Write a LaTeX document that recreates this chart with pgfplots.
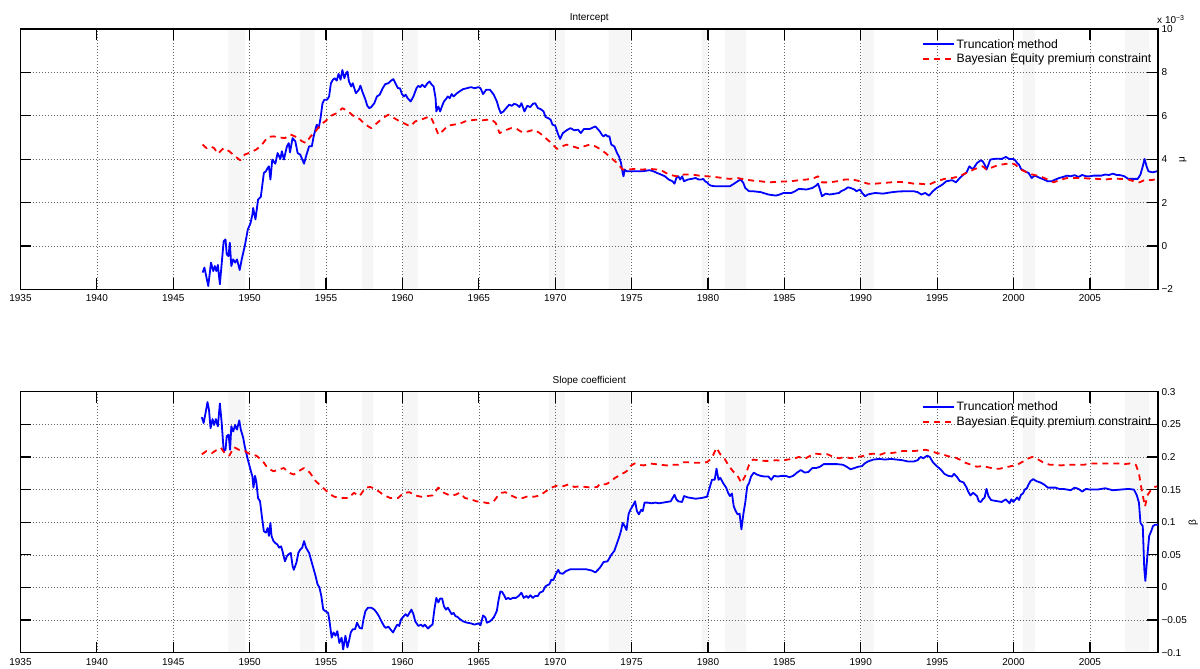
\documentclass[border=0pt]{standalone}
\usepackage{fontspec}
\setmainfont{Liberation Sans}
\usepackage{pgfplots}
\pgfplotsset{compat=1.18}

\definecolor{tblue}{rgb}{0,0,1}
\definecolor{bred}{rgb}{1,0,0}
\definecolor{recess}{gray}{0.965}

\pgfplotsset{
  panel/.style={
    set layers,
    scale only axis,
    width=1137.5pt,
    xmin=1935, xmax=2009.46,
    xtick={1935,1940,...,2005},
    tick align=inside,
    major tick length=11pt,
    xtick pos=both, ytick pos=both,
    yticklabel pos=right,
    grid=major,
    major grid style={black!60, line width=0.6pt, dash pattern=on 0.6pt off 2.4pt},
    axis line style={line width=1.2pt},
    tick style={black, line width=1.2pt},
    tick label style={font=\fontsize{10}{12}\selectfont},
    /pgf/number format/assume math mode=true,
    x tick label style={/pgf/number format/1000 sep={}, yshift=-2pt},
    every axis title shift=0pt,
    title style={font=\fontsize{10}{12}\selectfont, at={(axis description cs:0.5,1)}, anchor=base, yshift=8.5pt},
    ylabel style={font=\fontsize{10}{12}\selectfont, anchor=center},
    legend cell align=left,
    legend style={at={(axis description cs:1,1)}, anchor=north east, xshift=-5pt, yshift=-8.5pt,
      draw=none, fill=none, inner sep=0pt, row sep=1.5pt,
      font=\fontsize{12.2}{14}\selectfont, nodes={inner sep=1.5pt}},
    legend image code/.code={\draw[##1] (0pt,0pt) -- (31pt,0pt);},
  },
  trunc/.style={tblue, line width=1.8pt, line join=round},
  bayes/.style={bred, line width=1.8pt, line join=round, dash pattern=on 6pt off 5pt},
  band/.style={fill=recess, draw=none, forget plot, on layer=axis background},
}

\begin{document}
\begin{tikzpicture}

% ---------------- Intercept ----------------
\begin{axis}[panel,
    name=top,
    at={(20.5pt,379.7pt)}, anchor=south west,
    height=260.3pt,
    ymin=-2, ymax=10,
    ytick={-2,0,2,4,6,8,10},
    yticklabels={−2,0,2,4,6,8,10},
    title={Intercept},
    ylabel={μ},
    ylabel style={at={(axis description cs:1.022,0.5)}},
  ]
  % recession bands
  \addplot[band] coordinates {
    (1948.6,-2) (1948.6,10) (1949.7,10) (1949.7,-2)
    (1953.3,-2) (1953.3,10) (1954.25,10) (1954.25,-2)
    (1957.35,-2) (1957.35,10) (1958.1,10) (1958.1,-2)
    (1960.04,-2) (1960.04,10) (1961.0,10) (1961.0,-2)
    (1969.6,-2) (1969.6,10) (1970.63,10) (1970.63,-2)
    (1973.5,-2) (1973.5,10) (1974.9,10) (1974.9,-2)
    (1979.6,-2) (1979.6,10) (1980.0,10) (1980.0,-2)
    (1981.1,-2) (1981.1,10) (1982.5,10) (1982.5,-2)
    (1990.04,-2) (1990.04,10) (1990.84,10) (1990.84,-2)
    (2000.6,-2) (2000.6,10) (2001.4,10) (2001.4,-2)
    (2007.3,-2) (2007.3,10) (2008.9,10) (2008.9,-2)
  } -- cycle;

  \addplot[trunc] coordinates {
    (1946.92,-1.23) (1947.04,-1.00) (1947.29,-1.85) (1947.47,-0.77) (1947.62,-1.16) (1947.72,-0.93)
    (1947.82,-1.16) (1947.92,-0.88) (1948.05,-1.77) (1948.30,0.22) (1948.42,0.30) (1948.50,-0.39)
    (1948.62,-0.47) (1948.70,0.15) (1948.80,-0.93) (1948.92,-0.62) (1949.05,-0.77) (1949.17,-0.62)
    (1949.35,-1.11) (1949.48,-0.62) (1949.68,-0.01) (1949.88,0.76) (1950.05,1.03) (1950.18,1.45)
    (1950.23,1.75) (1950.38,1.22) (1950.55,2.14) (1950.73,2.26) (1950.93,3.36) (1951.06,3.44)
    (1951.18,3.59) (1951.26,3.67) (1951.36,3.06) (1951.48,3.98) (1951.68,3.79) (1951.83,4.28)
    (1952.01,4.01) (1952.11,4.36) (1952.24,3.98) (1952.44,4.59) (1952.56,4.74) (1952.64,4.31)
    (1952.81,4.97) (1952.99,4.82) (1953.14,4.28) (1953.31,4.21) (1953.56,3.79) (1953.69,4.13)
    (1953.89,4.59) (1954.07,4.59) (1954.19,5.05) (1954.39,5.59) (1954.52,5.43) (1954.64,5.89)
    (1954.77,6.58) (1954.89,6.74) (1955.07,6.74) (1955.20,6.89) (1955.32,7.50) (1955.45,7.66)
    (1955.57,7.73) (1955.70,7.62) (1955.82,7.93) (1955.95,7.66) (1956.07,8.11) (1956.20,7.73)
    (1956.27,7.89) (1956.40,8.04) (1956.50,7.58) (1956.65,7.35) (1956.75,7.50) (1956.95,7.04)
    (1957.15,7.20) (1957.25,7.39) (1957.40,7.07) (1957.58,6.74) (1957.70,6.46) (1957.83,6.35)
    (1957.96,6.40) (1958.16,6.58) (1958.33,6.89) (1958.51,6.97) (1958.71,7.27) (1958.88,7.46)
    (1959.08,7.50) (1959.26,7.62) (1959.41,7.69) (1959.54,7.50) (1959.71,7.27) (1959.84,7.27)
    (1959.96,7.01) (1960.09,6.89) (1960.21,6.97) (1960.34,6.81) (1960.54,6.66) (1960.72,6.89)
    (1960.92,7.27) (1961.04,7.38) (1961.17,7.32) (1961.29,7.43) (1961.47,7.32) (1961.64,7.50)
    (1961.77,7.58) (1961.92,7.43) (1962.04,7.35) (1962.17,6.81) (1962.22,6.20) (1962.35,6.43)
    (1962.47,6.20) (1962.60,6.46) (1962.72,6.66) (1962.85,6.77) (1962.97,6.89) (1963.10,6.81)
    (1963.22,7.00) (1963.35,6.89) (1963.52,7.01) (1963.73,7.12) (1963.98,7.23) (1964.23,7.27)
    (1964.48,7.32) (1964.73,7.27) (1964.98,7.32) (1965.11,7.27) (1965.28,7.00) (1965.48,7.20)
    (1965.73,7.20) (1965.98,6.97) (1966.18,6.66) (1966.31,6.35) (1966.44,6.12) (1966.61,6.20)
    (1966.79,6.35) (1966.99,6.51) (1967.16,6.46) (1967.31,6.55) (1967.49,6.51) (1967.66,6.40)
    (1967.79,6.58) (1967.99,6.20) (1968.17,6.46) (1968.37,6.40) (1968.54,6.55) (1968.69,6.58)
    (1968.87,6.35) (1969.04,6.31) (1969.24,6.20) (1969.37,5.94) (1969.55,5.89) (1969.70,5.82)
    (1969.82,5.59) (1970.00,5.54) (1970.20,5.13) (1970.32,4.93) (1970.50,5.20) (1970.75,5.33)
    (1971.00,5.43) (1971.25,5.33) (1971.50,5.36) (1971.68,5.20) (1971.88,5.39) (1972.26,5.39)
    (1972.63,5.51) (1972.92,5.28) (1973.05,5.13) (1973.17,5.05) (1973.30,5.13) (1973.42,5.05)
    (1973.55,5.05) (1973.67,4.67) (1973.87,4.59) (1974.05,4.28) (1974.17,4.13) (1974.30,3.85)
    (1974.42,3.36) (1974.47,3.21) (1974.55,3.52) (1974.67,3.44) (1975.18,3.44) (1975.68,3.44)
    (1976.18,3.49) (1976.43,3.44) (1976.68,3.36) (1976.93,3.29) (1977.18,3.21) (1977.43,3.06)
    (1977.68,2.98) (1977.81,2.87) (1977.93,3.13) (1978.06,3.21) (1978.18,3.06) (1978.31,3.21)
    (1978.43,2.98) (1978.68,3.06) (1978.93,3.09) (1979.19,3.13) (1979.39,3.06) (1979.56,3.06)
    (1979.69,3.09) (1979.81,2.98) (1979.94,2.93) (1980.06,2.83) (1980.19,2.78) (1980.44,2.75)
    (1980.94,2.75) (1981.44,2.75) (1981.69,2.86) (1981.94,2.98) (1982.14,3.06) (1982.32,2.90)
    (1982.44,2.67) (1982.69,2.52) (1982.94,2.52) (1983.45,2.48) (1983.95,2.37) (1984.45,2.32)
    (1984.70,2.37) (1984.95,2.44) (1985.45,2.44) (1985.70,2.52) (1985.95,2.63) (1986.45,2.60)
    (1986.83,2.67) (1987.08,2.78) (1987.21,2.87) (1987.33,2.60) (1987.46,2.29) (1987.71,2.41)
    (1987.96,2.37) (1988.33,2.41) (1988.58,2.44) (1988.71,2.52) (1988.96,2.60) (1989.16,2.70)
    (1989.34,2.67) (1989.59,2.60) (1989.71,2.52) (1989.96,2.60) (1990.09,2.44) (1990.29,2.29)
    (1990.46,2.37) (1990.71,2.41) (1990.96,2.44) (1991.47,2.41) (1991.97,2.47) (1992.47,2.51)
    (1992.97,2.52) (1993.47,2.52) (1993.72,2.48) (1993.97,2.37) (1994.22,2.44) (1994.47,2.32)
    (1994.72,2.52) (1994.97,2.67) (1995.35,2.83) (1995.60,2.98) (1995.98,3.03) (1996.23,2.93)
    (1996.48,3.13) (1996.73,3.29) (1996.93,3.39) (1997.11,3.67) (1997.23,3.59) (1997.36,3.55)
    (1997.61,3.82) (1997.86,3.95) (1997.98,3.90) (1998.11,3.75) (1998.23,3.52) (1998.36,3.75)
    (1998.48,3.98) (1998.73,4.01) (1998.98,4.02) (1999.24,4.01) (1999.49,4.10) (1999.74,4.01)
    (1999.99,4.01) (2000.11,3.95) (2000.24,3.82) (2000.36,3.75) (2000.49,3.55) (2000.74,3.44)
    (2000.99,3.36) (2001.19,3.13) (2001.37,3.24) (2001.49,3.21) (2001.74,3.13) (2001.99,3.06)
    (2002.24,2.98) (2002.49,2.98) (2002.74,3.06) (2002.99,3.13) (2003.25,3.18) (2003.50,3.24)
    (2003.75,3.21) (2004.00,3.26) (2004.25,3.18) (2004.50,3.27) (2004.75,3.21) (2005.00,3.21)
    (2005.25,3.24) (2005.50,3.24) (2005.75,3.24) (2006.00,3.29) (2006.25,3.27) (2006.50,3.33)
    (2006.75,3.27) (2007.01,3.26) (2007.26,3.21) (2007.51,3.09) (2007.76,3.09) (2008.13,3.09)
    (2008.31,3.29) (2008.46,3.67) (2008.58,4.01) (2008.71,3.67) (2008.83,3.44) (2009.09,3.39)
    (2009.39,3.44)
  };
  \addlegendentry{Truncation method}

  \addplot[bayes] coordinates {
    (1946.92,4.67) (1947.17,4.51) (1947.42,4.59) (1947.67,4.51) (1947.92,4.25) (1948.30,4.51)
    (1948.67,4.36) (1949.05,4.13) (1949.38,3.95) (1949.68,4.21) (1950.05,4.31) (1950.43,4.44)
    (1950.81,4.67) (1951.18,5.02) (1951.56,5.05) (1951.93,5.00) (1952.31,4.97) (1952.69,5.13)
    (1953.06,5.02) (1953.44,4.82) (1953.69,4.74) (1953.99,5.05) (1954.32,5.28) (1954.64,5.59)
    (1954.94,5.74) (1955.32,6.00) (1955.70,6.12) (1956.07,6.35) (1956.45,6.20) (1956.83,5.97)
    (1957.20,5.85) (1957.58,5.59) (1957.96,5.43) (1958.33,5.66) (1958.71,5.89) (1959.08,6.05)
    (1959.46,5.89) (1959.84,5.74) (1960.16,5.63) (1960.51,5.51) (1960.84,5.74) (1961.22,5.82)
    (1961.59,5.92) (1961.84,5.97) (1962.09,5.59) (1962.35,5.13) (1962.60,5.28) (1962.97,5.54)
    (1963.35,5.59) (1963.73,5.63) (1964.10,5.74) (1964.48,5.79) (1964.85,5.82) (1965.23,5.79)
    (1965.61,5.82) (1965.86,5.82) (1966.11,5.66) (1966.36,5.20) (1966.74,5.33) (1967.11,5.43)
    (1967.49,5.39) (1967.86,5.23) (1968.24,5.28) (1968.62,5.36) (1968.99,5.20) (1969.37,4.97)
    (1969.75,4.74) (1970.12,4.47) (1970.45,4.59) (1970.75,4.67) (1971.13,4.59) (1971.50,4.51)
    (1971.88,4.59) (1972.26,4.67) (1972.63,4.59) (1972.92,4.47) (1973.30,4.28) (1973.67,4.05)
    (1974.05,3.82) (1974.42,3.52) (1974.80,3.52) (1975.18,3.55) (1975.68,3.52) (1976.18,3.55)
    (1976.68,3.52) (1977.06,3.44) (1977.43,3.29) (1977.93,3.21) (1978.43,3.29) (1978.93,3.29)
    (1979.44,3.24) (1979.94,3.21) (1980.44,3.18) (1980.94,3.13) (1981.44,3.09) (1981.94,3.13)
    (1982.44,3.06) (1982.94,3.01) (1983.45,2.98) (1983.95,2.93) (1984.45,2.95) (1984.95,2.97)
    (1985.45,2.98) (1985.95,3.03) (1986.45,3.06) (1986.95,3.13) (1987.21,3.21) (1987.46,2.93)
    (1987.96,2.93) (1988.46,2.98) (1988.96,3.06) (1989.46,3.06) (1989.96,2.98) (1990.46,2.87)
    (1990.96,2.87) (1991.47,2.90) (1991.97,2.93) (1992.47,2.95) (1992.97,2.93) (1993.47,2.87)
    (1993.97,2.86) (1994.47,2.83) (1994.97,2.98) (1995.48,3.09) (1995.98,3.13) (1996.48,3.21)
    (1996.98,3.39) (1997.48,3.55) (1997.98,3.67) (1998.23,3.52) (1998.48,3.59) (1998.98,3.72)
    (1999.49,3.78) (1999.86,3.82) (2000.11,3.75) (2000.49,3.52) (2000.87,3.39) (2001.24,3.29)
    (2001.74,3.21) (2002.24,3.06) (2002.62,2.93) (2002.99,3.03) (2003.50,3.13) (2004.00,3.13)
    (2004.50,3.13) (2005.00,3.10) (2005.50,3.09) (2006.00,3.06) (2006.50,3.10) (2007.01,3.09)
    (2007.51,3.06) (2007.88,2.98) (2008.26,2.93) (2008.64,3.06) (2009.01,3.03) (2009.39,3.09)
  };
  \addlegendentry{Bayesian Equity premium constraint}
\end{axis}
\node[anchor=base west, font=\fontsize{10}{12}\selectfont, inner sep=0pt]
  at ([xshift=-1pt, yshift=5pt]top.north east) {x 10\textsuperscript{−3}};

% ---------------- Slope coefficient ----------------
\begin{axis}[panel,
    at={(20.5pt,16.3pt)}, anchor=south west,
    height=261pt,
    ymin=-0.1, ymax=0.3,
    ytick={-0.1,-0.05,0,0.05,0.1,0.15,0.2,0.25,0.3},
    yticklabels={−0.1,−0.05,0,0.05,0.1,0.15,0.2,0.25,0.3},
    title={Slope coefficient},
    ylabel={β},
    ylabel style={at={(axis description cs:1.031,0.5)}},
  ]
  \addplot[band] coordinates {
    (1948.6,-0.1) (1948.6,0.3) (1949.7,0.3) (1949.7,-0.1)
    (1953.3,-0.1) (1953.3,0.3) (1954.25,0.3) (1954.25,-0.1)
    (1957.35,-0.1) (1957.35,0.3) (1958.1,0.3) (1958.1,-0.1)
    (1960.04,-0.1) (1960.04,0.3) (1961.0,0.3) (1961.0,-0.1)
    (1969.6,-0.1) (1969.6,0.3) (1970.63,0.3) (1970.63,-0.1)
    (1973.5,-0.1) (1973.5,0.3) (1974.9,0.3) (1974.9,-0.1)
    (1979.6,-0.1) (1979.6,0.3) (1980.0,0.3) (1980.0,-0.1)
    (1981.1,-0.1) (1981.1,0.3) (1982.5,0.3) (1982.5,-0.1)
    (1990.04,-0.1) (1990.04,0.3) (1990.84,0.3) (1990.84,-0.1)
    (2000.6,-0.1) (2000.6,0.3) (2001.4,0.3) (2001.4,-0.1)
    (2007.3,-0.1) (2007.3,0.3) (2008.9,0.3) (2008.9,-0.1)
  } -- cycle;

  \addplot[trunc] coordinates {
    (1946.87,0.261) (1946.99,0.252) (1947.11,0.267) (1947.24,0.284) (1947.34,0.272) (1947.44,0.244)
    (1947.57,0.258) (1947.67,0.249) (1947.79,0.258) (1947.92,0.247) (1948.05,0.282) (1948.17,0.252)
    (1948.30,0.209) (1948.42,0.211) (1948.50,0.232) (1948.62,0.234) (1948.72,0.211) (1948.80,0.247)
    (1948.92,0.239) (1949.05,0.249) (1949.17,0.242) (1949.32,0.256) (1949.42,0.242) (1949.58,0.229)
    (1949.68,0.216) (1949.88,0.196) (1950.05,0.181) (1950.18,0.170) (1950.25,0.153) (1950.35,0.171)
    (1950.43,0.163) (1950.55,0.137) (1950.68,0.132) (1950.80,0.109) (1950.93,0.086) (1951.06,0.084)
    (1951.18,0.091) (1951.26,0.079) (1951.36,0.099) (1951.43,0.079) (1951.56,0.071) (1951.68,0.068)
    (1951.81,0.066) (1951.93,0.061) (1952.06,0.063) (1952.18,0.053) (1952.31,0.040) (1952.44,0.048)
    (1952.56,0.051) (1952.69,0.053) (1952.81,0.033) (1952.89,0.027) (1953.06,0.038) (1953.19,0.053)
    (1953.31,0.058) (1953.44,0.061) (1953.56,0.071) (1953.69,0.061) (1953.89,0.053) (1954.07,0.038)
    (1954.19,0.028) (1954.32,0.017) (1954.44,0.005) (1954.57,0.000) (1954.69,-0.013) (1954.82,-0.034)
    (1954.94,-0.036) (1955.14,-0.039) (1955.24,-0.054) (1955.37,-0.077) (1955.49,-0.069) (1955.62,-0.074)
    (1955.74,-0.067) (1955.87,-0.085) (1956.02,-0.077) (1956.12,-0.095) (1956.27,-0.074) (1956.40,-0.092)
    (1956.52,-0.080) (1956.62,-0.069) (1956.75,-0.064) (1956.90,-0.064) (1957.03,-0.054) (1957.20,-0.062)
    (1957.35,-0.063) (1957.45,-0.049) (1957.58,-0.036) (1957.75,-0.031) (1957.96,-0.031) (1958.16,-0.034)
    (1958.33,-0.039) (1958.46,-0.044) (1958.63,-0.052) (1958.79,-0.059) (1958.91,-0.062) (1959.08,-0.060)
    (1959.21,-0.064) (1959.39,-0.069) (1959.54,-0.062) (1959.66,-0.057) (1959.79,-0.059) (1959.91,-0.049)
    (1960.09,-0.044) (1960.21,-0.041) (1960.34,-0.044) (1960.46,-0.039) (1960.59,-0.034) (1960.72,-0.041)
    (1960.84,-0.052) (1961.04,-0.059) (1961.22,-0.057) (1961.34,-0.060) (1961.47,-0.057) (1961.67,-0.063)
    (1961.84,-0.059) (1961.97,-0.057) (1962.09,-0.034) (1962.22,-0.016) (1962.35,-0.023) (1962.47,-0.017)
    (1962.60,-0.017) (1962.72,-0.029) (1962.85,-0.034) (1962.97,-0.031) (1963.10,-0.036) (1963.22,-0.041)
    (1963.35,-0.039) (1963.47,-0.044) (1963.60,-0.045) (1963.73,-0.048) (1963.98,-0.052) (1964.23,-0.054)
    (1964.48,-0.055) (1964.73,-0.057) (1964.98,-0.055) (1965.11,-0.058) (1965.28,-0.043) (1965.43,-0.046)
    (1965.53,-0.054) (1965.73,-0.052) (1965.98,-0.046) (1966.18,-0.036) (1966.28,-0.021) (1966.41,-0.006)
    (1966.53,-0.007) (1966.68,-0.013) (1966.78,-0.018) (1966.93,-0.016) (1967.06,-0.018) (1967.23,-0.016)
    (1967.43,-0.016) (1967.61,-0.013) (1967.79,-0.008) (1967.94,-0.016) (1968.12,-0.013) (1968.24,-0.016)
    (1968.37,-0.012) (1968.54,-0.016) (1968.69,-0.013) (1968.87,-0.013) (1968.99,-0.008) (1969.19,-0.006)
    (1969.37,0.002) (1969.62,0.005) (1969.75,0.012) (1969.87,0.011) (1970.05,0.021) (1970.20,0.027)
    (1970.30,0.022) (1970.50,0.021) (1970.70,0.025) (1971.00,0.028) (1971.50,0.028) (1972.00,0.028)
    (1972.38,0.026) (1972.63,0.023) (1972.92,0.030) (1973.17,0.039) (1973.42,0.040) (1973.55,0.045)
    (1973.67,0.050) (1973.87,0.056) (1974.05,0.068) (1974.17,0.076) (1974.30,0.086) (1974.42,0.099)
    (1974.55,0.094) (1974.67,0.088) (1974.80,0.112) (1974.92,0.119) (1975.05,0.124) (1975.23,0.132)
    (1975.35,0.117) (1975.48,0.112) (1975.63,0.119) (1975.73,0.117) (1975.85,0.130) (1976.05,0.130)
    (1976.30,0.129) (1976.55,0.130) (1976.80,0.129) (1977.06,0.130) (1977.31,0.131) (1977.56,0.132)
    (1977.81,0.142) (1977.93,0.135) (1978.06,0.132) (1978.31,0.131) (1978.43,0.140) (1978.68,0.138)
    (1978.93,0.137) (1979.19,0.136) (1979.56,0.137) (1979.94,0.139) (1980.11,0.153) (1980.26,0.165)
    (1980.44,0.165) (1980.56,0.182) (1980.69,0.165) (1980.81,0.168) (1980.99,0.160) (1981.19,0.153)
    (1981.32,0.145) (1981.44,0.140) (1981.57,0.144) (1981.69,0.124) (1981.82,0.117) (1981.94,0.112)
    (1982.07,0.113) (1982.19,0.089) (1982.32,0.113) (1982.44,0.130) (1982.57,0.155) (1982.69,0.160)
    (1982.82,0.170) (1983.00,0.176) (1983.20,0.173) (1983.45,0.171) (1983.70,0.170) (1983.95,0.170)
    (1984.15,0.165) (1984.32,0.171) (1984.57,0.170) (1984.82,0.171) (1985.08,0.171) (1985.33,0.169)
    (1985.58,0.171) (1985.83,0.176) (1986.08,0.180) (1986.33,0.176) (1986.58,0.177) (1986.83,0.183)
    (1987.08,0.183) (1987.33,0.185) (1987.58,0.189) (1987.96,0.189) (1988.46,0.189) (1988.83,0.188)
    (1989.08,0.185) (1989.33,0.181) (1989.59,0.183) (1989.84,0.185) (1990.09,0.186) (1990.26,0.190)
    (1990.46,0.193) (1990.83,0.196) (1991.21,0.197) (1991.59,0.196) (1991.97,0.197) (1992.34,0.196)
    (1992.72,0.195) (1993.10,0.193) (1993.47,0.193) (1993.72,0.195) (1993.92,0.200) (1994.10,0.198)
    (1994.35,0.202) (1994.52,0.200) (1994.72,0.192) (1994.97,0.186) (1995.23,0.181) (1995.48,0.174)
    (1995.73,0.171) (1995.98,0.170) (1996.10,0.174) (1996.28,0.170) (1996.48,0.163) (1996.73,0.161)
    (1996.93,0.153) (1997.03,0.147) (1997.18,0.141) (1997.36,0.145) (1997.61,0.140) (1997.73,0.132)
    (1997.86,0.131) (1997.98,0.135) (1998.11,0.138) (1998.23,0.151) (1998.36,0.140) (1998.53,0.134)
    (1998.73,0.133) (1998.98,0.132) (1999.23,0.131) (1999.49,0.135) (1999.74,0.129) (1999.86,0.135)
    (1999.99,0.131) (2000.24,0.138) (2000.36,0.134) (2000.49,0.142) (2000.62,0.144) (2000.74,0.150)
    (2000.87,0.152) (2000.99,0.158) (2001.11,0.163) (2001.29,0.166) (2001.49,0.163) (2001.74,0.161)
    (2001.99,0.158) (2002.24,0.153) (2002.49,0.153) (2002.74,0.153) (2002.99,0.151) (2003.25,0.151)
    (2003.50,0.150) (2003.75,0.149) (2004.00,0.153) (2004.25,0.151) (2004.50,0.147) (2004.75,0.151)
    (2005.00,0.150) (2005.50,0.150) (2006.00,0.152) (2006.50,0.149) (2007.01,0.150) (2007.51,0.151)
    (2007.88,0.150) (2008.06,0.142) (2008.21,0.130) (2008.31,0.099) (2008.46,0.094) (2008.56,0.028)
    (2008.63,0.010) (2008.76,0.048) (2008.88,0.079) (2009.01,0.086) (2009.13,0.094) (2009.26,0.096)
    (2009.46,0.096)
  };
  \addlegendentry{Truncation method}

  \addplot[bayes] coordinates {
    (1946.87,0.204) (1947.17,0.209) (1947.54,0.206) (1947.79,0.210) (1948.12,0.214) (1948.42,0.204)
    (1948.67,0.202) (1948.97,0.215) (1949.30,0.211) (1949.68,0.209) (1950.05,0.204) (1950.43,0.202)
    (1950.81,0.195) (1951.18,0.183) (1951.56,0.178) (1951.93,0.181) (1952.24,0.183) (1952.56,0.176)
    (1952.89,0.173) (1953.19,0.178) (1953.56,0.183) (1953.94,0.176) (1954.32,0.163) (1954.69,0.155)
    (1955.07,0.147) (1955.45,0.140) (1955.82,0.137) (1956.20,0.137) (1956.45,0.137) (1956.83,0.145)
    (1957.20,0.140) (1957.58,0.153) (1957.90,0.154) (1958.21,0.151) (1958.58,0.145) (1958.83,0.141)
    (1959.21,0.137) (1959.71,0.137) (1960.09,0.145) (1960.46,0.146) (1960.84,0.141) (1961.22,0.139)
    (1961.59,0.140) (1961.97,0.141) (1962.35,0.153) (1962.72,0.145) (1963.10,0.141) (1963.47,0.142)
    (1963.73,0.145) (1964.10,0.137) (1964.48,0.135) (1964.85,0.132) (1965.23,0.131) (1965.61,0.129)
    (1965.98,0.132) (1966.23,0.140) (1966.49,0.145) (1966.74,0.146) (1967.11,0.141) (1967.49,0.137)
    (1967.86,0.137) (1968.24,0.140) (1968.62,0.139) (1968.99,0.141) (1969.37,0.147) (1969.75,0.153)
    (1970.12,0.156) (1970.50,0.155) (1970.88,0.158) (1971.25,0.154) (1971.63,0.155) (1972.00,0.154)
    (1972.38,0.153) (1972.76,0.154) (1972.92,0.159) (1973.30,0.158) (1973.55,0.161) (1973.92,0.168)
    (1974.30,0.173) (1974.67,0.178) (1974.92,0.186) (1975.18,0.190) (1975.43,0.188) (1975.81,0.187)
    (1976.18,0.190) (1976.56,0.189) (1976.93,0.188) (1977.31,0.187) (1977.68,0.188) (1978.06,0.188)
    (1978.43,0.192) (1978.81,0.192) (1979.19,0.191) (1979.56,0.191) (1979.94,0.192) (1980.24,0.198)
    (1980.56,0.214) (1980.81,0.204) (1981.07,0.198) (1981.32,0.188) (1981.64,0.178) (1981.94,0.171)
    (1982.19,0.160) (1982.44,0.171) (1982.69,0.188) (1982.94,0.196) (1983.32,0.195) (1983.70,0.194)
    (1984.07,0.194) (1984.45,0.195) (1984.82,0.194) (1985.20,0.196) (1985.58,0.197) (1985.95,0.200)
    (1986.33,0.197) (1986.71,0.202) (1987.08,0.205) (1987.46,0.204) (1987.83,0.204) (1988.21,0.200)
    (1988.58,0.198) (1988.96,0.200) (1989.34,0.198) (1989.71,0.200) (1990.09,0.201) (1990.46,0.204)
    (1990.83,0.205) (1991.21,0.203) (1991.59,0.206) (1991.97,0.206) (1992.34,0.207) (1992.72,0.209)
    (1993.10,0.209) (1993.47,0.209) (1993.85,0.210) (1994.22,0.211) (1994.60,0.209) (1994.97,0.206)
    (1995.35,0.204) (1995.73,0.201) (1996.10,0.200) (1996.48,0.196) (1996.85,0.191) (1997.23,0.188)
    (1997.60,0.185) (1997.98,0.186) (1998.36,0.184) (1998.73,0.182) (1999.11,0.182) (1999.49,0.184)
    (1999.86,0.186) (2000.24,0.188) (2000.62,0.193) (2000.99,0.198) (2001.24,0.200) (2001.62,0.196)
    (2001.99,0.191) (2002.37,0.188) (2002.74,0.188) (2003.12,0.187) (2003.50,0.188) (2003.87,0.188)
    (2004.25,0.188) (2004.62,0.188) (2005.00,0.190) (2005.38,0.190) (2005.75,0.190) (2006.13,0.190)
    (2006.50,0.190) (2006.88,0.190) (2007.26,0.189) (2007.63,0.190) (2008.01,0.188) (2008.21,0.175)
    (2008.31,0.160) (2008.46,0.141) (2008.61,0.124) (2008.76,0.141) (2008.96,0.148) (2009.13,0.153)
    (2009.39,0.155)
  };
  \addlegendentry{Bayesian Equity premium constraint}
\end{axis}

\pgfresetboundingbox
\path[use as bounding box] (0,0) rectangle (1200pt,669pt);
\end{tikzpicture}
\end{document}
